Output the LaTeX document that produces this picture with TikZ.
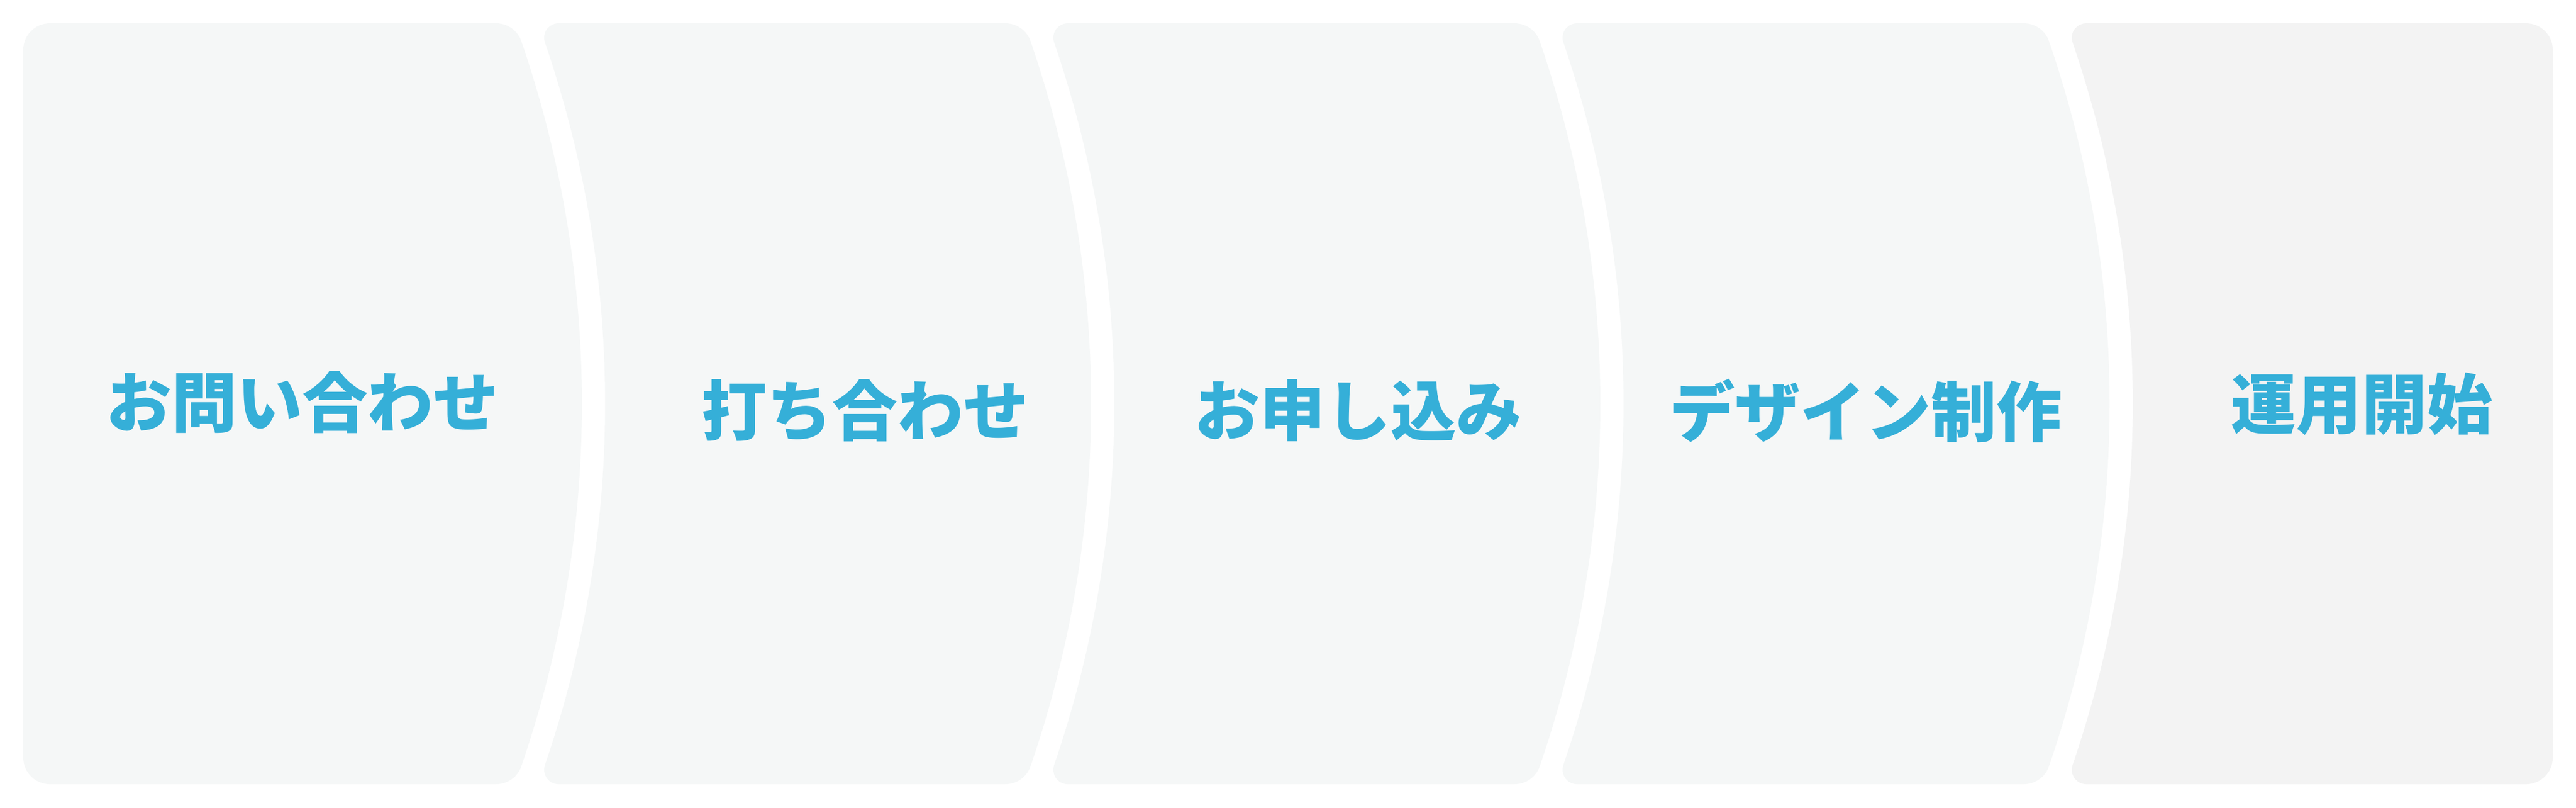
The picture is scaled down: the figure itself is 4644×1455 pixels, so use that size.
\documentclass[tikz,border=0pt]{standalone}
\usepackage{fontspec}
\newfontfamily\jp{Noto Sans CJK JP}
\definecolor{panel}{HTML}{F5F7F7}
\definecolor{panellast}{HTML}{F3F3F3}
\definecolor{txt}{HTML}{35AFD8}
\begin{document}
\begin{tikzpicture}[x=0.1pt,y=0.1pt,
  lbl/.style={text=txt, font=\jp\bfseries\fontsize{11.8pt}{11.8pt}\selectfont, inner sep=0pt, anchor=center},
  midpanel/.style={fill=panel}]
\useasboundingbox (0,0) rectangle (4644,1455);
\fill[white] (0,0) rectangle (4644,1455);
% panel 1
\fill[panel] (90,1413) -- (894.4,1413) arc[start angle=90,end angle=18.98,radius=48]
  arc[start angle=18.98,end angle=-18.98,radius=2008]
  arc[start angle=-18.98,end angle=-90,radius=48] -- (90,42)
  arc[start angle=270,end angle=180,radius=48] -- (42,1365)
  arc[start angle=180,end angle=90,radius=48] -- cycle;
% panels 2-4
\foreach \s in {0,918,1836}{
\begin{scope}[shift={(\s,0)}]
\fill[midpanel] (1007,1413) -- (1812.4,1413) arc[start angle=90,end angle=18.98,radius=48]
  arc[start angle=18.98,end angle=-18.98,radius=2008]
  arc[start angle=-18.98,end angle=-90,radius=48] -- (1007,42)
  arc[start angle=270,end angle=161.08,radius=26]
  arc[start angle=-18.92,end angle=18.92,radius=2008]
  arc[start angle=198.92,end angle=90,radius=26] -- cycle;
\end{scope}}
% panel 5
\fill[panellast] (3761,1413) -- (4554,1413) arc[start angle=90,end angle=0,radius=48]
  -- (4602,90) arc[start angle=0,end angle=-90,radius=48] -- (3761,42)
  arc[start angle=270,end angle=161.08,radius=26]
  arc[start angle=-18.92,end angle=18.92,radius=2008]
  arc[start angle=198.92,end angle=90,radius=26] -- cycle;
% labels
\node[lbl] (t1) at (545,730) {お問い合わせ};
\node[lbl] (t2) at (1559,715) {打ち合わせ};
\node[lbl] (t3) at (2448,715) {お申し込み};
\node[lbl] (t4) at (3363,715) {デザイン制作};
\node[lbl] (t5) at (4257,727) {運用開始};
\end{tikzpicture}
\end{document}
